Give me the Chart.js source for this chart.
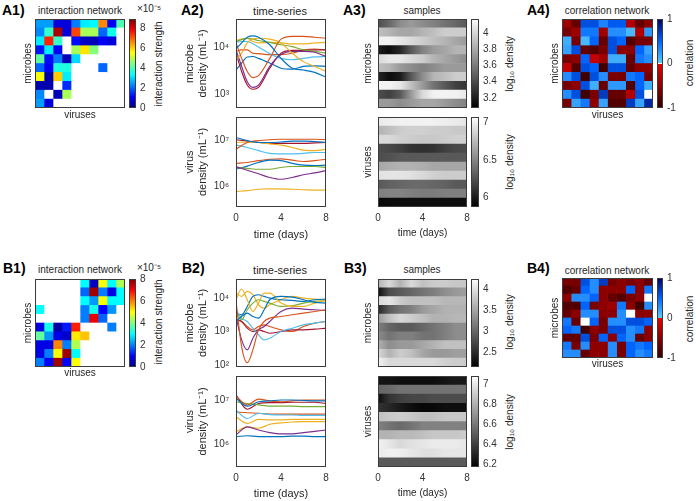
<!DOCTYPE html>
<html><head><meta charset="utf-8">
<script src="https://cdn.jsdelivr.net/npm/chart.js@4.4.1/dist/chart.umd.min.js"></script>
<style>
html,body{margin:0;padding:0;background:#fff}
body{position:relative;width:696px;height:501px;overflow:hidden;font-family:"Liberation Sans",Arial,Helvetica,sans-serif;color:#262626}
.pl{position:absolute;font-weight:bold;font-size:14px;line-height:14px;color:#000;white-space:nowrap}
.t{position:absolute;white-space:nowrap;line-height:1;transform:translate(-50%,-50%)}
.r{position:absolute;white-space:nowrap;line-height:1;transform:translate(-50%,-50%) rotate(-90deg)}
canvas{position:absolute}
</style></head><body>
<div class="pl" style="left:2px;top:3px">A1)</div>
<div class="pl" style="left:181px;top:3px">A2)</div>
<div class="pl" style="left:343px;top:3px">A3)</div>
<div class="pl" style="left:527px;top:3px">A4)</div>
<div class="pl" style="left:3px;top:261px">B1)</div>
<div class="pl" style="left:182px;top:261px">B2)</div>
<div class="pl" style="left:344px;top:261px">B3)</div>
<div class="pl" style="left:527px;top:261px">B4)</div>

<div class="t" style="left:80px;top:11px;font-size:10px">interaction network</div>
<div class="t" style="left:280px;top:11px;font-size:11px">time-series</div>
<div class="t" style="left:422px;top:11px;font-size:10px">samples</div>
<div class="t" style="left:607px;top:11px;font-size:10px">correlation network</div>
<div class="t" style="left:80px;top:270px;font-size:10px">interaction network</div>
<div class="t" style="left:280px;top:270px;font-size:11px">time-series</div>
<div class="t" style="left:422px;top:270px;font-size:10px">samples</div>
<div class="t" style="left:607px;top:271px;font-size:10px">correlation network</div>

<div class="t" style="left:149px;top:9px;font-size:10px">×10⁻⁵</div>
<div class="t" style="left:149px;top:268px;font-size:10px">×10⁻⁵</div>
<div class="r" style="left:159px;top:64px;font-size:10px">interaction strength</div>
<div class="r" style="left:159px;top:322px;font-size:10px">interaction strength</div>
<div class="r" style="left:510px;top:64px;font-size:10px">log₁₀ density</div>
<div class="r" style="left:510px;top:162px;font-size:10px">log₁₀ density</div>
<div class="r" style="left:510px;top:322px;font-size:10px">log₁₀ density</div>
<div class="r" style="left:510px;top:422px;font-size:10px">log₁₀ density</div>
<div class="r" style="left:690px;top:63px;font-size:10px">correlation</div>
<div class="r" style="left:690px;top:319px;font-size:10px">correlation</div>

<script>
// ---------------- DATA ----------------
const cellIndex = ['1','2','3','4','5','6','7','8','9','10'];
const lineColors = ['#0072BD','#D95319','#EDB120','#7E2F8E','#77AC30','#4DBEEE','#A2142F','#0072BD','#D95319','#EDB120'];

// interaction strengths (x 1e-5), rows = microbes, cols = viruses
const interactionA = [
  [2.5,2.5,0.8,0.8,2.2,3.2,3.3,6.6,1.0,4.0],
  [2.3,3.8,8.5,0.8,7.2,4.8,4.8,2.0,3.5,0],
  [3.2,7.5,3.8,0,1.2,0.6,0.5,1.0,0.8,0],
  [1.3,3.2,1.0,0,4.8,5.8,4.5,0,0,0],
  [4.2,1.2,2.2,0.5,3.0,0,0,0,0,0],
  [2.0,1.0,3.6,3.6,0,0,0,2.0,0,0],
  [5.5,0.4,6.0,3.2,0,0,0,0,0,0],
  [0.4,0.4,0,1.5,0,0,0,0,0,0],
  [2.3,0,0.5,4.8,0,0,0,0,0,0],
  [2.5,0.8,0,0,0,0,0,0,0,0]
];
const interactionB = [
  [0,0,0,0,0,3.0,0.5,5.0,3.0,4.4],
  [0,0,0,0,0,1.8,7.8,2.0,0.8,3.0],
  [0,0,0,0,0,3.0,2.2,5.0,3.0,3.0],
  [3.0,0,0,0,0,2.0,3.2,1.0,2.2,0],
  [0,0,0,0,0,2.0,7.2,1.8,0,0],
  [0.8,3.2,0.3,1.2,6.8,0,0,0,2.0,0],
  [3.8,2.2,0.8,0.6,5.2,5.5,0,0,0,0],
  [0.8,0.8,6.0,2.0,4.4,0,0,0,0,0],
  [0.8,2.0,5.0,7.8,3.0,0,0,0,0,0],
  [2.0,1.0,7.8,1.0,5.0,0,0,0,0,0]
];
const interactionMaxA = 8.9, interactionMaxB = 8.05;
const interactionTicks = [0,2,4,6,8];

// correlation networks
const correlationA = [
  [-0.4,-0.7,0.6,0.6,0.35,0.55,0.55,-0.3,-0.7,-0.5],
  [-0.6,-0.4,0.4,0.4,-0.4,0.3,0.3,0.1,-0.3,0.25],
  [0.15,-0.6,0.1,0.5,-0.7,0.6,0.5,-0.8,-0.6,-0.6],
  [0.2,0.6,-0.7,-0.8,-0.6,0.6,-0.5,-0.5,0.5,0.2],
  [-0.6,-0.5,0.5,-0.2,-0.4,0.15,0.15,-0.7,0.4,0.3],
  [-0.2,-0.8,0.6,0.5,-0.9,0.6,0.6,-0.7,-0.5,-0.5],
  [0.3,0.6,-0.9,0.6,0.3,-0.6,-0.6,0.4,0.5,-0.6],
  [-0.6,-0.5,0.6,0.15,-0.7,0.25,0.25,-0.8,0.5,0.15],
  [0.3,0.6,-0.9,-0.6,0.7,-0.7,-0.7,-0.3,0.6,0],
  [-0.6,0.2,0.4,-0.5,0.2,-0.8,-0.8,0.7,0.2,0.8]
];
const correlationB = [
  [-0.6,-0.6,0.6,0.3,0.7,-0.6,-0.5,-0.6,-0.5,-0.7],
  [-0.8,-0.7,0.5,0.3,-0.5,-0.5,-0.5,0.5,-0.5,0.4],
  [-0.5,0.3,0.3,0.5,-0.5,-0.7,-0.8,-0.6,-0.5,0],
  [-0.8,-0.8,0.5,-0.6,-0.5,-0.4,0.4,-0.5,-0.9,0.3],
  [-0.7,-0.5,0.3,0.3,-0.5,-0.5,0.3,0,-0.5,-0.5],
  [0.4,-0.7,0,0.5,-0.6,0.3,0.3,0.6,0.6,0.5],
  [0.5,0.4,-0.9,-0.5,-0.6,0.6,0.6,0.3,0.4,-0.5],
  [-0.7,-0.7,0.6,-0.6,0.5,-0.5,0.5,0.3,-0.7,-0.5],
  [0.4,-0.6,0.3,-0.5,-0.5,0.3,-0.6,0.5,0.4,0.5],
  [0.3,0.3,-0.7,-0.5,-0.5,0.3,-0.6,0.5,0.3,0.4]
];
const correlationTicks = [-1,0,1];

// time-series (log10 density)
const timeMicA = [0,0.5,1,1.5,2,3,4,5,6,7,8];
const microbesA = [
  [3.96,4.09,4.21,4.24,4.21,4.05,3.76,3.55,3.51,3.46,3.36],
  [4.09,3.76,3.48,3.35,3.39,3.76,4.17,4.23,4.23,4.21,4.19],
  [3.73,3.87,4.09,4.17,4.19,4.17,4.09,3.87,3.69,3.59,3.48],
  [3.94,3.59,3.26,3.14,3.19,3.59,3.84,3.91,3.91,3.89,3.80],
  [4.12,4.16,4.19,4.17,4.14,4.10,4.05,4.01,3.94,3.91,3.87],
  [4.10,4.12,4.12,4.07,4.00,3.86,3.76,3.73,3.76,3.79,3.80],
  [3.87,3.48,3.19,3.10,3.14,3.55,3.87,3.93,3.93,3.94,3.94],
  [3.51,3.66,3.79,3.80,3.76,3.66,3.55,3.53,3.59,3.60,3.59],
  [3.91,3.94,3.94,3.87,3.86,3.84,3.84,3.87,3.94,3.96,3.94],
  [4.14,4.17,4.19,4.12,4.09,4.10,4.09,4.07,4.07,4.09,4.10]
];
const timeVir = [0,1,2,3,4,5,6,7,8];
const virusesA = [
  [7.07,7.00,6.96,6.96,6.97,6.99,6.99,6.98,6.96],
  [6.81,6.96,7.00,7.02,7.03,7.03,7.03,7.03,7.02],
  [6.96,6.97,6.96,6.93,6.90,6.85,6.79,6.78,6.81],
  [6.43,6.35,6.27,6.19,6.15,6.19,6.25,6.29,6.34],
  [6.41,6.39,6.37,6.37,6.41,6.43,6.43,6.43,6.41],
  [6.90,6.85,6.78,6.72,6.71,6.71,6.72,6.74,6.74],
  [7.02,6.99,6.96,6.94,6.94,6.94,6.94,6.95,6.96],
  [6.37,6.44,6.52,6.57,6.56,6.50,6.46,6.45,6.46],
  [6.50,6.52,6.56,6.59,6.60,6.57,6.54,6.56,6.59],
  [5.88,5.90,5.93,5.94,5.94,5.93,5.92,5.91,5.91]
];
const timeMicB = [0,0.5,1,1.5,2,2.5,3,4,5,6,7,8];
const microbesB = [
  [3.30,3.45,3.55,3.45,3.40,3.65,3.95,4.05,4.03,3.95,3.87,3.85],
  [3.90,2.55,2.07,2.45,3.05,3.30,3.40,3.45,3.50,3.55,3.60,3.65],
  [3.95,4.27,3.95,3.60,3.85,4.15,4.15,3.85,3.75,3.75,3.85,3.93],
  [3.45,2.75,2.45,2.80,3.05,3.15,3.30,3.60,3.70,3.67,3.65,3.63],
  [3.60,3.35,3.65,3.85,3.95,3.90,3.85,3.75,3.77,3.85,3.90,3.93],
  [3.65,3.40,3.30,3.10,2.90,2.75,2.80,3.00,3.10,3.20,3.25,3.30],
  [3.35,3.30,3.10,3.00,3.05,3.00,2.95,3.00,3.05,3.05,3.07,3.10],
  [3.55,3.50,3.75,4.05,4.10,4.05,4.00,3.95,3.93,3.90,3.95,3.97],
  [3.35,3.30,3.15,3.05,3.15,3.20,3.15,3.05,3.00,3.15,3.25,3.30],
  [4.15,4.05,4.20,4.10,3.80,3.70,3.80,3.95,4.05,4.00,3.97,3.95]
];
const virusesB = [
  [7.04,6.86,6.96,6.98,7.00,7.00,6.99,6.98,6.98],
  [7.09,6.89,7.02,6.98,6.96,6.98,7.00,7.00,7.00],
  [6.62,6.47,6.56,6.55,6.55,6.56,6.56,6.56,6.56],
  [6.21,6.39,6.32,6.26,6.23,6.23,6.26,6.29,6.32],
  [6.96,6.92,6.89,6.86,6.86,6.86,6.85,6.85,6.85],
  [6.77,6.58,6.70,6.67,6.66,6.66,6.65,6.65,6.65],
  [7.11,6.79,6.92,6.94,6.94,6.95,6.95,6.95,6.92],
  [6.17,6.19,6.17,6.17,6.17,6.18,6.18,6.17,6.17],
  [6.73,6.71,6.70,6.68,6.68,6.68,6.68,6.68,6.68],
  [6.28,6.39,6.36,6.45,6.48,6.50,6.51,6.51,6.51]
];
const timeTicks = [0,4,8];
const micTicksA = [1e3,1e4], micTickLabelsA = ['10³','10⁴'];
const virTicksA = [1e6,1e7], virTickLabelsA = ['10⁶','10⁷'];
const micTicksB = [1e2,1e3,1e4], micTickLabelsB = ['10²','10³','10⁴'];
const virTicksB = [1e6,1e7], virTickLabelsB = ['10⁶','10⁷'];

// samples (log10 density), rows x days 0..8
const sampleDays = [0,1,2,3,4,5,6,7,8];
const samplesMicA = [
  [3.41,3.52,3.68,3.74,3.68,3.63,3.57,3.52,3.46],
  [3.90,3.85,3.79,3.79,3.85,3.90,3.96,3.96,3.96],
  [4.12,4.12,4.07,4.01,3.96,3.90,3.85,3.79,3.74],
  [3.19,3.13,3.24,3.46,3.63,3.74,3.79,3.85,3.85],
  [4.01,4.07,4.07,4.01,3.96,3.85,3.79,3.74,3.68],
  [3.90,3.85,3.74,3.68,3.63,3.68,3.74,3.74,3.74],
  [3.24,3.13,3.19,3.46,3.68,3.85,3.90,3.96,3.96],
  [4.12,4.12,4.07,3.90,3.74,3.57,3.46,3.35,3.30],
  [3.41,3.35,3.46,3.74,4.01,4.12,4.12,4.12,4.07],
  [3.74,3.74,3.68,3.74,3.79,3.79,3.74,3.68,3.63]
];
const samplesVirA = [
  [6.97,6.99,7.01,7.01,7.01,7.01,6.99,6.97,6.95],
  [6.71,6.77,6.83,6.85,6.85,6.83,6.83,6.81,6.81],
  [6.89,6.89,6.85,6.83,6.81,6.81,6.83,6.85,6.85],
  [6.23,6.21,6.17,6.11,6.09,6.11,6.17,6.21,6.23],
  [6.23,6.25,6.29,6.29,6.29,6.29,6.29,6.29,6.29],
  [6.65,6.69,6.71,6.71,6.69,6.65,6.65,6.65,6.65],
  [6.93,6.95,6.95,6.93,6.89,6.85,6.83,6.83,6.83],
  [6.29,6.33,6.35,6.37,6.37,6.35,6.33,6.29,6.29],
  [6.47,6.49,6.49,6.47,6.45,6.45,6.47,6.47,6.47],
  [5.91,5.92,5.93,5.93,5.93,5.93,5.93,5.93,5.93]
];
const samplesMicB = [
  [3.61,3.93,3.61,3.93,3.72,3.82,3.82,3.78,3.78],
  [2.25,2.77,2.88,2.98,3.09,3.19,3.30,3.40,3.44],
  [3.93,4.03,3.82,3.72,3.72,3.72,3.65,3.65,3.65],
  [2.46,2.88,3.09,3.19,3.40,3.51,3.61,3.61,3.61],
  [3.40,3.72,3.93,3.82,3.72,3.61,3.61,3.65,3.65],
  [3.19,2.98,2.88,2.88,2.98,3.09,3.19,3.30,3.30],
  [3.30,3.09,3.19,3.19,3.09,3.09,3.19,3.30,3.30],
  [3.61,3.30,3.40,3.40,3.51,3.61,3.72,3.72,3.72],
  [3.93,3.61,3.82,3.72,3.51,3.40,3.40,3.44,3.44],
  [4.14,3.93,3.93,3.93,3.93,3.93,3.86,3.82,3.82]
];
const samplesVirB = [
  [6.24,6.24,6.22,6.22,6.22,6.22,6.24,6.26,6.26],
  [6.53,6.55,6.58,6.58,6.58,6.58,6.58,6.58,6.58],
  [6.22,6.35,6.40,6.42,6.42,6.44,6.44,6.44,6.44],
  [6.35,6.31,6.26,6.22,6.19,6.20,6.22,6.22,6.22],
  [6.85,6.88,6.90,6.88,6.85,6.85,6.88,6.88,6.88],
  [6.63,6.58,6.55,6.58,6.63,6.63,6.63,6.63,6.63],
  [6.81,6.81,6.83,6.83,6.85,6.88,6.88,6.88,6.90],
  [7.03,6.99,6.94,6.97,6.99,7.01,7.01,7.01,6.99],
  [7.01,7.03,7.02,6.99,6.97,6.97,6.99,6.99,6.99],
  [6.49,6.49,6.49,6.49,6.49,6.49,6.49,6.49,6.49]
];
const rangeMicA = [3.075,4.175], ticksMicA = [3.2,3.4,3.6,3.8,4], labelsMicA = ['3.2','3.4','3.6','3.8','4'];
const rangeVirA = [5.87,7.07],   ticksVirA = [6,6.5,7],          labelsVirA = ['6','6.5','7'];
const rangeMicB = [2.14,4.24],   ticksMicB = [2.5,3,3.5,4],      labelsMicB = ['2.5','3','3.5','4'];
const rangeVirB = [6.17,7.08],   ticksVirB = [6.2,6.4,6.6,6.8,7],labelsVirB = ['6.2','6.4','6.6','6.8','7'];

// ---------------- STYLE HELPERS ----------------
const TXT = '#262626', TICK = '#333333';
Chart.defaults.font.family = '"Liberation Sans", Arial, Helvetica, sans-serif';
Chart.defaults.color = TICK;
Chart.register({
  id: 'frame',
  afterDatasetsDraw(chart) {
    const a = chart.chartArea, c = chart.ctx;
    c.save();
    c.strokeStyle = '#3c3c3c'; c.lineWidth = 1;
    c.strokeRect(Math.round(a.left) + 0.5, Math.round(a.top) + 0.5, Math.round(a.right - a.left) - 1, Math.round(a.bottom - a.top) - 1);
    c.restore();
  }
});
function mkCanvas(box, m) {
  const c = document.createElement('canvas');
  const w = box[2] - box[0] + m.l + m.r, h = box[3] - box[1] + m.t + m.b;
  c.width = w; c.height = h;
  c.style.left = (box[0] - m.l) + 'px'; c.style.top = (box[1] - m.t) + 'px';
  c.style.width = w + 'px'; c.style.height = h + 'px';
  document.body.appendChild(c);
  return c;
}
function fix(size, horiz) {
  return s => {
    if (horiz) s.height = size; else s.width = size;
    s.paddingTop = s.paddingBottom = s.paddingLeft = s.paddingRight = 0;
  };
}
const noGrid = { display: false, drawTicks: false };
const base = { responsive: false, animation: false, devicePixelRatio: 1, plugins: { legend: { display: false }, tooltip: { enabled: false } } };

function lerp(a, b, f) { return a.map((v, i) => Math.round(v + (b[i] - v) * f)); }
function jet(f) {
  const cl = x => Math.max(0, Math.min(1, x));
  const r = cl(1.5 - Math.abs(4 * f - 3)), g = cl(1.5 - Math.abs(4 * f - 2)), b = cl(1.5 - Math.abs(4 * f - 1));
  return `rgb(${Math.round(r * 255)},${Math.round(g * 255)},${Math.round(b * 255)})`;
}
const jetColor = max => v => v <= 0 ? '#ffffff' : jet(Math.min(1, v / max));
function corrColor(v) {
  if (v === 0) return '#ffffff';
  let c;
  if (v > 0) c = v < 0.5 ? lerp([90, 205, 255], [0, 100, 255], v / 0.5) : lerp([0, 100, 255], [0, 0, 95], (v - 0.5) / 0.5);
  else c = lerp([235, 0, 0], [45, 0, 0], -v);
  return `rgb(${c[0]},${c[1]},${c[2]})`;
}
const grayColor = (lo, hi) => v => { const g = Math.round(Math.max(0, Math.min(1, (v - lo) / (hi - lo))) * 255); return `rgb(${g},${g},${g})`; };

// ---------------- CHART BUILDERS ----------------
function axisY(title, m) {
  return { type: 'category', ticks: { display: false }, grid: noGrid, border: { display: false },
           title: { display: true, text: title, padding: 0, font: { size: 10 }, color: TXT }, afterFit: fix(m.l, false) };
}
function axisX(min, max, title, ticks, m) {
  return { type: 'linear', min, max,
           afterBuildTicks: ticks ? (s => { s.ticks = ticks.map(v => ({ value: v })); }) : undefined,
           ticks: { display: !!ticks, padding: 5, font: { size: 10 }, maxRotation: 0 },
           grid: noGrid, border: { display: false },
           title: { display: true, text: title, padding: 0, font: { size: 10 }, color: TXT }, afterFit: fix(m.b, true) };
}
// square cell map (one floating bar per cell)
function cellMap(box, m, values, colorFn, yTitle, xTitle) {
  const c = mkCanvas(box, m);
  const datasets = cellIndex.map((_, j) => ({
    data: values.map(() => [j, j + 1]),
    backgroundColor: values.map(row => colorFn(row[j])),
    borderWidth: 0, grouped: false, barPercentage: 1, categoryPercentage: 1, clip: 0
  }));
  new Chart(c, {
    type: 'bar',
    data: { labels: cellIndex, datasets },
    options: Object.assign({}, base, {
      indexAxis: 'y',
      layout: { padding: { left: 0, top: m.t, right: m.r, bottom: 0 } },
      scales: { y: axisY(yTitle, m), x: axisX(0, cellIndex.length, xTitle, null, m) }
    })
  });
}
// sample map: one bar per row spanning the sampled days, shaded along time from the row's samples
function sampleMap(box, m, values, colorFn, yTitle, xTitle, xTicks) {
  const c = mkCanvas(box, m);
  const t0 = sampleDays[0], t1 = sampleDays[sampleDays.length - 1];
  new Chart(c, {
    type: 'bar',
    data: { labels: cellIndex, datasets: [{
      data: values.map(() => [t0, t1]),
      borderWidth: 0, barPercentage: 1, categoryPercentage: 1, clip: 0,
      backgroundColor: ctx => {
        const xs = ctx.chart.scales && ctx.chart.scales.x; const row = values[ctx.dataIndex];
        if (!xs || !row) return '#888888';
        const p0 = xs.getPixelForValue(t0), p1 = xs.getPixelForValue(t1);
        if (!isFinite(p0) || !isFinite(p1) || p1 <= p0) return '#888888';
        const g = ctx.chart.ctx.createLinearGradient(p0, 0, p1, 0);
        sampleDays.forEach((t, k) => g.addColorStop((t - t0) / (t1 - t0), colorFn(row[k])));
        return g;
      }
    }] },
    options: Object.assign({}, base, {
      indexAxis: 'y',
      layout: { padding: { left: 0, top: m.t, right: m.r, bottom: 0 } },
      scales: { y: axisY(yTitle, m), x: axisX(t0, t1, xTitle, xTicks, m) }
    })
  });
}
function colorbar(box, m, lo, hi, ticks, labels, stops) {
  const c = mkCanvas(box, m);
  new Chart(c, {
    type: 'bar',
    data: { labels: [''], datasets: [{
      data: [[lo, hi]], barPercentage: 1, categoryPercentage: 1, borderWidth: 0, borderSkipped: false,
      backgroundColor: ctx => {
        const a = ctx.chart.chartArea; if (!a || !isFinite(a.top) || !isFinite(a.bottom)) return '#ffffff';
        const g = ctx.chart.ctx.createLinearGradient(0, a.bottom, 0, a.top);
        stops.forEach(s => g.addColorStop(s[0], s[1]));
        return g;
      }
    }] },
    options: Object.assign({}, base, {
      layout: { padding: { left: m.l, top: m.t, right: 0, bottom: m.b } },
      scales: {
        x: { display: false },
        y: { position: 'right', min: lo, max: hi,
             afterBuildTicks: s => { s.ticks = ticks.map(v => ({ value: v })); },
             ticks: { padding: 4, font: { size: 10 }, callback: (v, i) => labels[i] },
             grid: noGrid, border: { display: false }, afterFit: fix(m.r, false) }
      }
    })
  });
}
function lineChart(box, m, times, series, yLo, yHi, yTicks, yLabels, yTitle, showX) {
  const c = mkCanvas(box, m);
  new Chart(c, {
    type: 'line',
    data: { datasets: series.map((vals, i) => ({
      data: times.map((t, k) => ({ x: t, y: Math.pow(10, vals[k]) })),
      borderColor: lineColors[i], borderWidth: 1.15, pointRadius: 0, fill: false, cubicInterpolationMode: 'monotone'
    })) },
    options: Object.assign({}, base, {
      layout: { padding: { left: 0, top: m.t, right: m.r, bottom: 0 } },
      scales: {
        x: { type: 'linear', min: 0, max: 8,
             afterBuildTicks: s => { s.ticks = timeTicks.map(v => ({ value: v })); },
             ticks: { display: showX, padding: 5, font: { size: 10 }, maxRotation: 0 },
             grid: noGrid, border: { display: false },
             title: { display: showX, text: 'time (days)', padding: 0, font: { size: 11 }, color: TXT }, afterFit: fix(m.b, true) },
        y: { type: 'logarithmic', min: Math.pow(10, yLo), max: Math.pow(10, yHi),
             afterBuildTicks: s => { s.ticks = yTicks.map(v => ({ value: v })); },
             ticks: { padding: 7, font: { size: 10 }, callback: (v, i) => yLabels[i] },
             grid: noGrid, border: { display: false },
             title: { display: true, text: yTitle, padding: 0, font: { size: 11 }, color: TXT }, afterFit: fix(m.l, false) }
      }
    })
  });
}

// colormap stops
const jetStops = [[0, '#ffffff'], [1 / 64 - 0.001, '#ffffff'], [1 / 64, jet(1 / 64)]];
for (let k = 2; k <= 64; k++) jetStops.push([k / 64, jet(k / 64)]);
const grayStops = [[0, '#000000'], [1, '#ffffff']];
const corrStops = [[0, corrColor(-1)], [0.25, corrColor(-0.5)], [0.494, corrColor(-0.01)], [0.494, '#ffffff'], [0.506, '#ffffff'],
                   [0.506, corrColor(0.01)], [0.75, corrColor(0.5)], [1, corrColor(1)]];

// ---------------- ROW A ----------------
cellMap([35, 19, 125, 108], { l: 13, t: 2, r: 2, b: 13 }, interactionA, jetColor(interactionMaxA), 'microbes', 'viruses');
colorbar([129, 19, 136, 108], { l: 1, t: 8, r: 22, b: 8 }, 0, interactionMaxA, interactionTicks, interactionTicks.map(String), jetStops);
lineChart([236, 19, 326, 108], { l: 53, t: 8, r: 5, b: 2 }, timeMicA, microbesA, 2.70, 4.60, micTicksA, micTickLabelsA, ['microbe', 'density (mL⁻¹)'], false);
lineChart([236, 117, 326, 207], { l: 53, t: 8, r: 6, b: 35 }, timeVir, virusesA, 5.54, 7.52, virTicksA, virTickLabelsA, ['virus', 'density (mL⁻¹)'], true);
sampleMap([378, 19, 467, 108], { l: 16, t: 2, r: 2, b: 2 }, samplesMicA, grayColor(rangeMicA[0], rangeMicA[1]), 'microbes', '', null);
colorbar([471, 19, 479, 108], { l: 1, t: 8, r: 22, b: 8 }, rangeMicA[0], rangeMicA[1], ticksMicA, labelsMicA, grayStops);
sampleMap([378, 117, 467, 207], { l: 16, t: 2, r: 6, b: 32 }, samplesVirA, grayColor(rangeVirA[0], rangeVirA[1]), 'viruses', 'time (days)', timeTicks);
colorbar([471, 117, 479, 207], { l: 1, t: 8, r: 22, b: 8 }, rangeVirA[0], rangeVirA[1], ticksVirA, labelsVirA, grayStops);
cellMap([562, 19, 653, 108], { l: 13, t: 2, r: 2, b: 13 }, correlationA, corrColor, 'microbes', 'viruses');
colorbar([657, 19, 663, 108], { l: 1, t: 8, r: 20, b: 8 }, -1, 1, correlationTicks, correlationTicks.map(String), corrStops);

// ---------------- ROW B ----------------
cellMap([35, 279, 125, 367], { l: 13, t: 2, r: 2, b: 12 }, interactionB, jetColor(interactionMaxB), 'microbes', 'viruses');
colorbar([129, 279, 136, 367], { l: 1, t: 8, r: 22, b: 8 }, 0, interactionMaxB, interactionTicks, interactionTicks.map(String), jetStops);
lineChart([236, 279, 326, 367], { l: 53, t: 8, r: 5, b: 2 }, timeMicB, microbesB, 1.94, 4.57, micTicksB, micTickLabelsB, ['microbe', 'density (mL⁻¹)'], false);
lineChart([236, 376, 326, 467], { l: 53, t: 8, r: 6, b: 34 }, timeVir, virusesB, 5.48, 7.545, virTicksB, virTickLabelsB, ['virus', 'density (mL⁻¹)'], true);
sampleMap([378, 279, 467, 367], { l: 16, t: 2, r: 2, b: 2 }, samplesMicB, grayColor(rangeMicB[0], rangeMicB[1]), 'microbes', '', null);
colorbar([471, 279, 479, 367], { l: 1, t: 8, r: 22, b: 8 }, rangeMicB[0], rangeMicB[1], ticksMicB, labelsMicB, grayStops);
sampleMap([378, 376, 467, 467], { l: 16, t: 2, r: 6, b: 32 }, samplesVirB, grayColor(rangeVirB[0], rangeVirB[1]), 'viruses', 'time (days)', timeTicks);
colorbar([471, 376, 479, 467], { l: 1, t: 8, r: 22, b: 8 }, rangeVirB[0], rangeVirB[1], ticksVirB, labelsVirB, grayStops);
cellMap([562, 278, 653, 358], { l: 13, t: 2, r: 2, b: 12 }, correlationB, corrColor, 'microbes', 'viruses');
colorbar([657, 278, 663, 358], { l: 1, t: 8, r: 20, b: 8 }, -1, 1, correlationTicks, correlationTicks.map(String), corrStops);
</script>
</body></html>
